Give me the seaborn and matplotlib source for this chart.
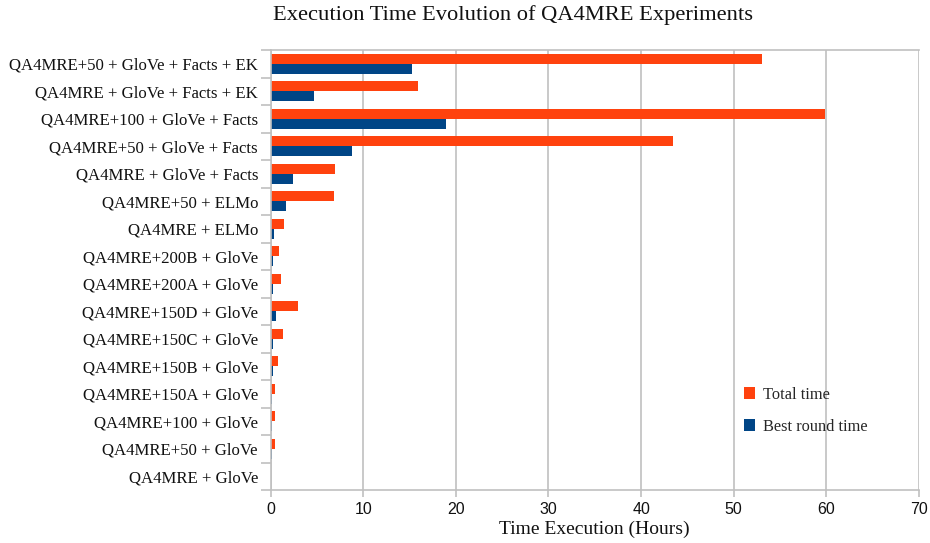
import matplotlib
matplotlib.use("Agg")
import matplotlib.pyplot as plt
import seaborn as sns
import pandas as pd
import numpy as np

categories = [
    "QA4MRE+50 + GloVe + Facts + EK",
    "QA4MRE + GloVe + Facts + EK",
    "QA4MRE+100 + GloVe + Facts",
    "QA4MRE+50 + GloVe + Facts",
    "QA4MRE + GloVe + Facts",
    "QA4MRE+50 + ELMo",
    "QA4MRE + ELMo",
    "QA4MRE+200B + GloVe",
    "QA4MRE+200A + GloVe",
    "QA4MRE+150D + GloVe",
    "QA4MRE+150C + GloVe",
    "QA4MRE+150B + GloVe",
    "QA4MRE+150A + GloVe",
    "QA4MRE+100 + GloVe",
    "QA4MRE+50 + GloVe",
    "QA4MRE + GloVe",
]
total_time = [53.1, 15.9, 59.8, 43.4, 6.93, 6.85, 1.47, 0.93, 1.15, 2.97, 1.36, 0.82, 0.5, 0.5, 0.5, 0.07]
best_round_time = [15.25, 4.67, 18.95, 8.78, 2.4, 1.65, 0.39, 0.25, 0.29, 0.57, 0.29, 0.25, 0.14, 0.18, 0.14, 0.04]
series_names = ["Total time", "Best round time"]
colors = ["#FF420E", "#004586"]
x_ticks = [0, 10, 20, 30, 40, 50, 60, 70]

df = pd.DataFrame({
    "Experiment": categories * 2,
    "Hours": total_time + best_round_time,
    "Series": [series_names[0]] * len(categories) + [series_names[1]] * len(categories),
})

sns.set_theme(style="white")
plt.rcParams["font.family"] = ["Liberation Serif", "DejaVu Serif"]

fig = plt.figure(figsize=(9.30, 5.43), dpi=100)
ax = fig.add_axes([270.5 / 930, 1 - 490 / 543, (919 - 270.5) / 930, (490 - 50) / 543])

sns.barplot(data=df, y="Experiment", x="Hours", hue="Series", order=categories,
            hue_order=series_names, palette=colors, orient="h", width=0.73,
            saturation=1, linewidth=0, edgecolor="none", ax=ax, legend=True)

grid_c = "#c0c0c0"
ax.set_xlim(0, 70)
ax.set_ylim(len(categories) - 0.5, -0.5)
ax.set_xticks(x_ticks)
ax.set_xticklabels([str(v) for v in x_ticks], family=["Liberation Sans", "DejaVu Sans"],
                   fontsize=11.5, color="#111111")
ax.xaxis.grid(True, color=grid_c, linewidth=1.2)
ax.set_axisbelow(True)
for s in ["top", "bottom", "left"]:
    ax.spines[s].set_color(grid_c)
    ax.spines[s].set_linewidth(1.2)
ax.spines["right"].set_visible(False)

ax.set_yticks(np.arange(len(categories)))
ax.set_yticklabels(categories, fontsize=12.1, color="#111111")
ax.tick_params(axis="y", which="major", length=0, pad=9)
ax.set_yticks(np.arange(-0.5, len(categories), 1), minor=True)
ax.tick_params(axis="y", which="minor", length=7, width=1.2, color=grid_c, left=True)
ax.tick_params(axis="x", which="major", length=5, width=1.2, color=grid_c, bottom=True, pad=3.5)

ax.set_ylabel("")
ax.set_xlabel("Time Execution (Hours)", fontsize=14, color="#111111", labelpad=3)
fig.suptitle("Execution Time Evolution of QA4MRE Experiments", x=513 / 930,
             y=1 - 5 / 543, va="top", fontsize=16.2, color="#111111")

leg = ax.legend(loc="upper left", bbox_to_anchor=((737 - 270.5) / 648.5, 1 - (380 - 50) / 440),
                frameon=False, fontsize=11.8, handlelength=0.7, handleheight=0.7,
                handletextpad=0.5, labelspacing=1.0, borderaxespad=0)

fig.savefig("out.png", dpi=100)
